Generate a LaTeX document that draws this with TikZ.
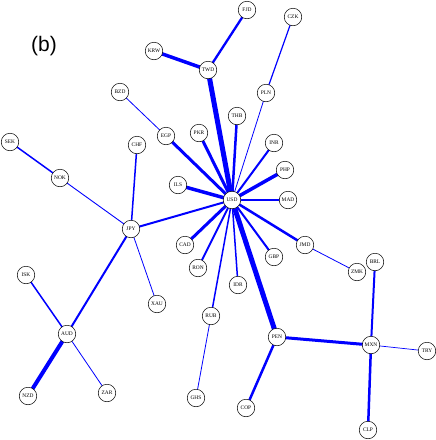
\documentclass[tikz,border=0pt]{standalone}
\usepackage{fontspec}
\newfontfamily\labelfont{Liberation Sans}
\newfontfamily\nodefont{Liberation Serif}
\pgfdeclarelayer{bg}
\pgfsetlayers{bg,main}
\begin{document}
\begin{tikzpicture}[x=1pt,y=-1pt,
  cur/.style={circle,draw=black,line width=0.5pt,fill=white,minimum size=17.5pt,inner sep=0pt,font=\nodefont\fontsize{5.4}{6}\selectfont},
  lk/.style={draw={rgb,255:red,0;green,0;blue,255},line width=#1}]
\useasboundingbox (0,0) rectangle (436,440);
\node[font=\labelfont\fontsize{21}{24}\selectfont] (lab) at (44,46) {(b)};
\node[cur] (FJD) at (247,10) {FJD};
\node[cur] (CZK) at (293,17) {CZK};
\node[cur] (KRW) at (154,51) {KRW};
\node[cur] (TWD) at (208,70) {TWD};
\node[cur] (PLN) at (266,93) {PLN};
\node[cur] (BZD) at (120,92) {BZD};
\node[cur] (EGP) at (166,136) {EGP};
\node[cur] (PKR) at (199,133) {PKR};
\node[cur] (THB) at (237,116) {THB};
\node[cur] (INR) at (274,143) {INR};
\node[cur] (PHP) at (285,170) {PHP};
\node[cur] (MAD) at (288,200) {MAD};
\node[cur] (USD) at (232,200) {USD};
\node[cur] (ILS) at (178,185) {ILS};
\node[cur] (CAD) at (185,245) {CAD};
\node[cur] (RON) at (198,268) {RON};
\node[cur] (IDR) at (238,285) {IDR};
\node[cur] (GBP) at (274,257) {GBP};
\node[cur] (JMD) at (305,245) {JMD};
\node[cur] (ZMK) at (357,272) {ZMK};
\node[cur] (BRL) at (375,262) {BRL};
\node[cur] (MXN) at (371,345) {MXN};
\node[cur] (TRY) at (427,351) {TRY};
\node[cur] (CLP) at (368,430) {CLP};
\node[cur] (PEN) at (277,337) {PEN};
\node[cur] (COP) at (246,408) {COP};
\node[cur] (RUB) at (211,316) {RUB};
\node[cur] (GHS) at (196,398) {GHS};
\node[cur] (SEK) at (10,142) {SEK};
\node[cur] (NOK) at (60,178) {NOK};
\node[cur] (CHF) at (137,145) {CHF};
\node[cur] (JPY) at (131,229) {JPY};
\node[cur] (XAU) at (157,304) {XAU};
\node[cur] (ISK) at (26,275) {ISK};
\node[cur] (AUD) at (67,334) {AUD};
\node[cur] (NZD) at (28,396) {NZD};
\node[cur] (ZAR) at (107,393) {ZAR};
\begin{pgfonlayer}{bg}
\draw[lk=2.3] (TWD.center) -- (FJD.center);
\draw[lk=3.5] (TWD.center) -- (KRW.center);
\draw[lk=5] (TWD.center) -- (USD.center);
\draw[lk=1.2] (CZK.center) -- (PLN.center);
\draw[lk=0.8] (PLN.center) -- (USD.center);
\draw[lk=0.8] (BZD.center) -- (EGP.center);
\draw[lk=3] (EGP.center) -- (USD.center);
\draw[lk=3] (PKR.center) -- (USD.center);
\draw[lk=2.5] (THB.center) -- (USD.center);
\draw[lk=2] (INR.center) -- (USD.center);
\draw[lk=3.5] (PHP.center) -- (USD.center);
\draw[lk=2] (MAD.center) -- (USD.center);
\draw[lk=3.5] (ILS.center) -- (USD.center);
\draw[lk=2] (JPY.center) -- (USD.center);
\draw[lk=3] (CAD.center) -- (USD.center);
\draw[lk=1.8] (RON.center) -- (USD.center);
\draw[lk=1.5] (RUB.center) -- (USD.center);
\draw[lk=1.5] (IDR.center) -- (USD.center);
\draw[lk=5] (PEN.center) -- (USD.center);
\draw[lk=2] (GBP.center) -- (USD.center);
\draw[lk=2.5] (JMD.center) -- (USD.center);
\draw[lk=0.8] (JMD.center) -- (ZMK.center);
\draw[lk=2] (BRL.center) -- (MXN.center);
\draw[lk=3] (PEN.center) -- (MXN.center);
\draw[lk=0.7] (MXN.center) -- (TRY.center);
\draw[lk=2.5] (MXN.center) -- (CLP.center);
\draw[lk=2.5] (PEN.center) -- (COP.center);
\draw[lk=0.8] (RUB.center) -- (GHS.center);
\draw[lk=1.5] (SEK.center) -- (NOK.center);
\draw[lk=0.9] (NOK.center) -- (JPY.center);
\draw[lk=1.5] (CHF.center) -- (JPY.center);
\draw[lk=0.8] (JPY.center) -- (XAU.center);
\draw[lk=2] (JPY.center) -- (AUD.center);
\draw[lk=1.5] (ISK.center) -- (AUD.center);
\draw[lk=4] (AUD.center) -- (NZD.center);
\draw[lk=0.8] (AUD.center) -- (ZAR.center);
\end{pgfonlayer}
\end{tikzpicture}
\end{document}
